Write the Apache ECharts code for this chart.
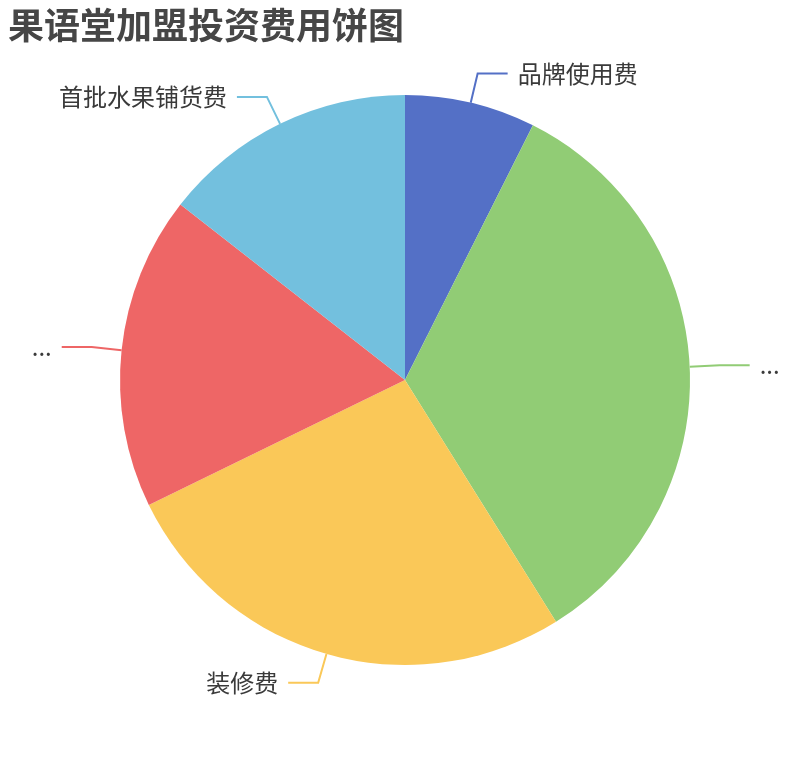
<!DOCTYPE html>
<html>
<head>
<meta charset="utf-8">
<script src="https://cdn.jsdelivr.net/npm/echarts@6/dist/echarts.min.js"></script>
<style>
html,body{margin:0;padding:0;background:#fff;}
#main{width:810px;height:760px;}
</style>
</head>
<body>
<div id="main"></div>
<script>
const titleText = '果语堂加盟投资费用饼图';
const categories = ['品牌使用费', '设备及开业物料采购费', '装修费', '店面租金及押金费用', '首批水果铺货费'];
const values = [20000, 91000, 72000, 48000, 39000];
const colors = ['#5470c6', '#91cc75', '#fac858', '#ee6666', '#73c0de'];

const chart = echarts.init(document.getElementById('main'));
chart.setOption({
  animation: false,
  color: colors,
  title: {
    text: titleText,
    left: 3,
    top: 2,
    textStyle: { fontSize: 36, fontWeight: 'bold', color: '#464646', fontFamily: 'Noto Sans CJK SC' }
  },
  series: [{
    type: 'pie',
    radius: '75%',
    center: ['50%', '50%'],
    startAngle: 90,
    data: categories.map((n, i) => ({ name: n, value: values[i] })),
    label: {
      fontSize: 24,
      color: '#3a3a3a',
      distanceToLabelLine: 10,
      fontFamily: 'Noto Sans CJK SC'
    },
    labelLine: { length: 30, length2: 30, lineStyle: { width: 2 } },
    itemStyle: { borderWidth: 0 }
  }]
});
</script>
</body>
</html>
